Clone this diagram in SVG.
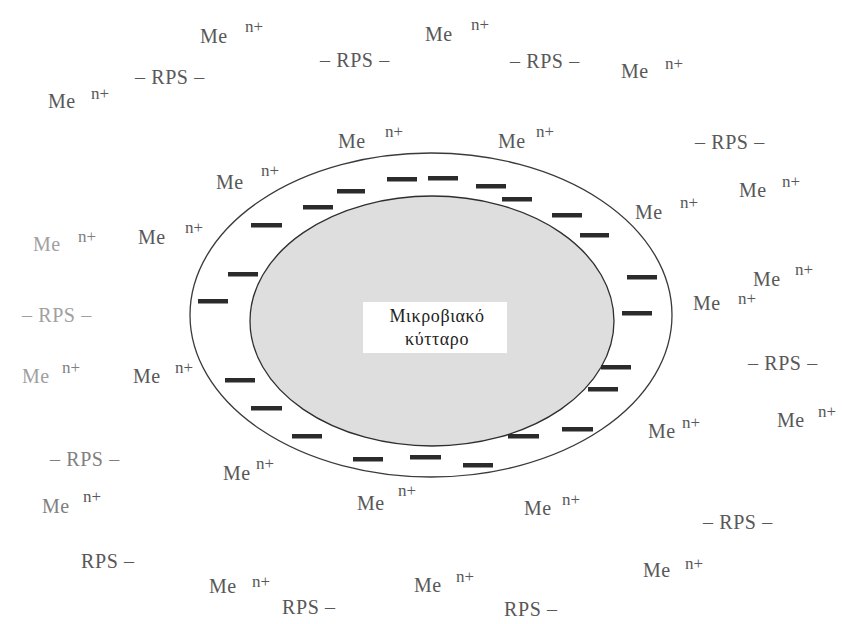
<svg xmlns="http://www.w3.org/2000/svg" width="843" height="624" viewBox="0 0 843 624">
  <style>
    text { font-family: "Liberation Serif", "DejaVu Serif", serif; fill: #585858; }
    .me { font-size: 20px; letter-spacing: 0.5px; }
    .sup { font-size: 17px; }
    .rps { font-size: 20px; letter-spacing: 0.6px; }
    .faint { fill: #a0a0a0; }
    .light { fill: #808080; }
    .bar { fill: #2b2b2b; }
    .label { font-size: 18px; fill: #222; text-anchor: middle; letter-spacing: 0.6px; }
  </style>
  <rect width="843" height="624" fill="#ffffff"/>

  <!-- cell with surface layer -->
  <g id="cell">
    <ellipse cx="431" cy="315" rx="241" ry="162" fill="#ffffff" stroke="#3a3a3a" stroke-width="1.3"/>
    <ellipse cx="432" cy="321" rx="182" ry="125" fill="#dedede" stroke="#2e2e2e" stroke-width="1.3"/>
    <rect x="363" y="302" width="144" height="51" fill="#ffffff"/>
    <text class="label" x="437" y="322">Μικροβιακό</text>
    <text class="label" x="437" y="345">κύτταρο</text>
  </g>

  <!-- negative charges on the cell surface -->
  <g id="charges">
    <rect class="bar" x="251" y="223" width="31" height="4.5"/>
    <rect class="bar" x="303" y="205" width="30" height="4.5"/>
    <rect class="bar" x="337" y="189" width="28" height="4.5"/>
    <rect class="bar" x="387" y="177" width="30" height="4.5"/>
    <rect class="bar" x="428" y="176" width="30" height="4.5"/>
    <rect class="bar" x="476" y="184" width="30" height="4.5"/>
    <rect class="bar" x="502" y="197" width="30" height="4.5"/>
    <rect class="bar" x="552" y="213" width="30" height="4.5"/>
    <rect class="bar" x="580" y="233" width="29" height="4.5"/>
    <rect class="bar" x="228" y="272" width="30" height="4.5"/>
    <rect class="bar" x="198" y="299" width="30" height="4.5"/>
    <rect class="bar" x="627" y="275" width="30" height="4.5"/>
    <rect class="bar" x="622" y="311" width="30" height="4.5"/>
    <rect class="bar" x="601" y="365" width="30" height="4.5"/>
    <rect class="bar" x="588" y="387" width="30" height="4.5"/>
    <rect class="bar" x="225" y="378" width="30" height="4.5"/>
    <rect class="bar" x="251" y="406" width="31" height="4.5"/>
    <rect class="bar" x="292" y="434" width="30" height="4.5"/>
    <rect class="bar" x="353" y="457" width="30" height="4.5"/>
    <rect class="bar" x="410" y="455" width="31" height="4.5"/>
    <rect class="bar" x="463" y="463" width="30" height="4.5"/>
    <rect class="bar" x="508" y="434" width="31" height="4.5"/>
    <rect class="bar" x="562" y="427" width="31" height="4.5"/>
  </g>

  <!-- metal ions -->
  <g id="ions">
    <text class="me" x="200" y="43">Me</text><text class="sup" x="245" y="32">n+</text>
    <text class="me" x="48" y="108">Me</text><text class="sup" x="91" y="99">n+</text>
    <text class="me" x="425" y="41">Me</text><text class="sup" x="471" y="30">n+</text>
    <text class="me" x="621" y="78">Me</text><text class="sup" x="665" y="69">n+</text>
    <text class="me" x="338" y="148">Me</text><text class="sup" x="385" y="137">n+</text>
    <text class="me" x="498" y="148">Me</text><text class="sup" x="536" y="137">n+</text>
    <text class="me" x="216" y="189">Me</text><text class="sup" x="261" y="176">n+</text>
    <text class="me" x="635" y="219">Me</text><text class="sup" x="680" y="208">n+</text>
    <text class="me" x="739" y="197">Me</text><text class="sup" x="782" y="187">n+</text>
    <text class="me faint" x="33" y="251">Me</text><text class="sup light" x="78" y="242">n+</text>
    <text class="me" x="138" y="244">Me</text><text class="sup" x="185" y="233">n+</text>
    <text class="me" x="753" y="286">Me</text><text class="sup" x="795" y="275">n+</text>
    <text class="me" x="693" y="310">Me</text><text class="sup" x="738" y="304">n+</text>
    <text class="me faint" x="22" y="383">Me</text><text class="sup light" x="62" y="373">n+</text>
    <text class="me" x="133" y="383">Me</text><text class="sup" x="175" y="373">n+</text>
    <text class="me" x="648" y="438">Me</text><text class="sup" x="682" y="428">n+</text>
    <text class="me" x="777" y="427">Me</text><text class="sup" x="818" y="417">n+</text>
    <text class="me" x="223" y="480">Me</text><text class="sup" x="256" y="469">n+</text>
    <text class="me light" x="42" y="513">Me</text><text class="sup" x="83" y="502">n+</text>
    <text class="me" x="357" y="510">Me</text><text class="sup" x="398" y="496">n+</text>
    <text class="me" x="524" y="515">Me</text><text class="sup" x="562" y="505">n+</text>
    <text class="me" x="209" y="593">Me</text><text class="sup" x="252" y="587">n+</text>
    <text class="me" x="414" y="592">Me</text><text class="sup" x="456" y="582">n+</text>
    <text class="me" x="643" y="577">Me</text><text class="sup" x="685" y="569">n+</text>
  </g>

  <!-- RPS fragments -->
  <g id="rps">
    <text class="rps" x="135" y="84">– RPS –</text>
    <text class="rps" x="320" y="67">– RPS –</text>
    <text class="rps" x="510" y="68">– RPS –</text>
    <text class="rps" x="695" y="149">– RPS –</text>
    <text class="rps faint" x="22" y="322">– RPS –</text>
    <text class="rps" x="748" y="370">– RPS –</text>
    <text class="rps light" x="50" y="466">– RPS –</text>
    <text class="rps" x="703" y="529">– RPS –</text>
    <text class="rps" x="81" y="568">RPS –</text>
    <text class="rps" x="282" y="614">RPS –</text>
    <text class="rps" x="504" y="616">RPS –</text>
  </g>
</svg>
